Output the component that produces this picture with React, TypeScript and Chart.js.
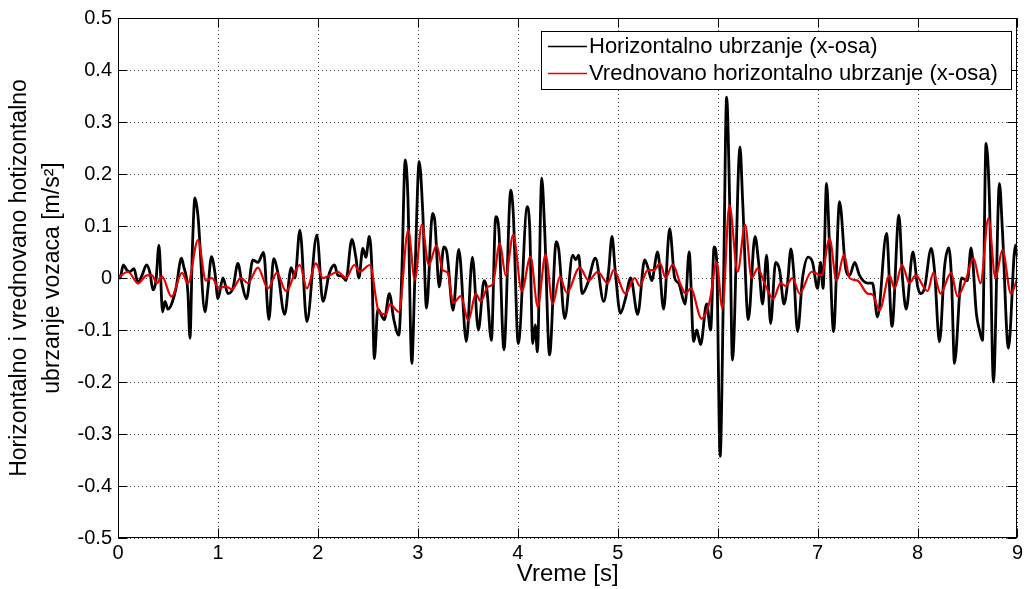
import React, { useEffect, useRef } from 'react';
import { Chart, registerables } from 'chart.js';

Chart.register(...registerables);

const xTickValues = [0, 1, 2, 3, 4, 5, 6, 7, 8, 9];
const yTickValues = [-0.5, -0.4, -0.3, -0.2, -0.1, 0, 0.1, 0.2, 0.3, 0.4, 0.5];

const seriesLabels = ['Horizontalno ubrzanje (x-osa)', 'Vrednovano horizontalno ubrzanje (x-osa)'];
const seriesColors = ['#000000', '#e60000'];

const blackTime = [
  0.0, 0.02, 0.053, 0.09, 0.12, 0.16, 0.2, 0.24, 0.286, 0.32, 0.35, 0.38, 0.41, 0.446, 0.47, 0.5, 0.536, 0.58, 0.635, 0.66,
  0.685, 0.7, 0.72, 0.745, 0.77, 0.8, 0.87, 0.9, 0.935, 0.97, 1.0, 1.05, 1.1, 1.15, 1.2, 1.24, 1.285, 1.35, 1.4, 1.457,
  1.51, 1.557, 1.6, 1.667, 1.733, 1.77, 1.82, 1.89, 1.99, 2.05, 2.116, 2.166, 2.2, 2.25, 2.28, 2.34, 2.38, 2.41, 2.45, 2.48,
  2.515, 2.54, 2.565, 2.6, 2.665, 2.715, 2.76, 2.81, 2.84, 2.874, 2.9, 2.94, 2.97, 3.014, 3.05, 3.087, 3.147, 3.17, 3.214, 3.26,
  3.29, 3.353, 3.41, 3.486, 3.546, 3.606, 3.663, 3.69, 3.736, 3.78, 3.81, 3.862, 3.93, 3.955, 4.005, 4.095, 4.12, 4.15, 4.175, 4.196,
  4.24, 4.27, 4.318, 4.385, 4.41, 4.47, 4.55, 4.58, 4.61, 4.644, 4.7, 4.777, 4.86, 4.91, 4.943, 4.975, 5.027, 5.077, 5.13, 5.2,
  5.27, 5.31, 5.34, 5.4, 5.46, 5.52, 5.57, 5.61, 5.675, 5.715, 5.76, 5.79, 5.83, 5.89, 5.93, 5.965, 5.99, 6.025, 6.06, 6.09,
  6.12, 6.148, 6.224, 6.25, 6.307, 6.374, 6.41, 6.45, 6.49, 6.53, 6.58, 6.62, 6.664, 6.7, 6.733, 6.76, 6.8, 6.85, 6.906, 6.95,
  7.0, 7.03, 7.055, 7.09, 7.12, 7.16, 7.22, 7.28, 7.32, 7.372, 7.42, 7.5, 7.55, 7.6, 7.69, 7.745, 7.814, 7.85, 7.887, 7.954,
  8.0, 8.03, 8.07, 8.137, 8.17, 8.22, 8.27, 8.313, 8.34, 8.37, 8.44, 8.5, 8.536, 8.59, 8.62, 8.65, 8.686, 8.72, 8.76, 8.82,
  8.85, 8.91, 8.98, 9.0,
];
const blackValue = [
  0.005, 0.0, 0.025, 0.015, 0.012, 0.018, -0.01, 0.005, 0.025, 0.01, -0.023, -0.005, 0.063, -0.065, -0.045, -0.06, -0.05, -0.02, 0.038, 0.02,
  0.0, -0.03, -0.116, 0.06, 0.154, 0.12, -0.065, -0.02, 0.041, 0.01, -0.04, 0.0, -0.03, -0.02, 0.028, -0.01, -0.04, 0.035, 0.03, 0.049,
  -0.08, 0.037, 0.01, -0.07, 0.02, 0.0, 0.092, -0.084, 0.083, -0.045, 0.01, 0.025, 0.005, 0.003, -0.005, 0.074, 0.04, 0.0, 0.057, 0.04,
  0.08, 0.02, -0.155, -0.06, -0.08, -0.03, -0.08, -0.11, 0.01, 0.227, 0.16, -0.164, -0.003, 0.224, 0.125, -0.058, 0.124, 0.11, -0.017, 0.06,
  0.05, -0.062, 0.055, -0.122, 0.04, -0.1, -0.005, -0.02, -0.12, 0.118, 0.095, -0.138, 0.169, 0.125, -0.126, 0.137, 0.095, -0.126, -0.09, -0.142,
  0.192, 0.09, -0.148, 0.07, 0.055, -0.078, 0.044, 0.035, 0.044, -0.03, -0.01, 0.038, -0.045, 0.015, 0.08, 0.015, -0.068, -0.04, 0.0, -0.07,
  0.035, 0.015, -0.005, 0.05, -0.06, 0.095, 0.0, -0.01, -0.05, 0.05, -0.122, -0.1, -0.128, -0.05, -0.1, 0.06, 0.035, -0.343, 0.0, 0.348,
  0.15, -0.158, 0.252, 0.15, -0.08, 0.08, 0.03, -0.05, 0.044, -0.088, 0.03, 0.015, -0.05, -0.01, 0.056, 0.015, -0.103, 0.0, 0.04, 0.03,
  -0.02, 0.03, -0.02, 0.182, 0.06, -0.103, 0.147, 0.02, 0.005, 0.03, 0.005, -0.01, -0.01, -0.075, 0.086, -0.093, 0.121, 0.0, -0.06, 0.05,
  -0.015, -0.03, -0.02, 0.057, 0.015, -0.123, 0.02, 0.058, 0.0, -0.164, 0.0, -0.005, 0.058, -0.07, -0.1, -0.12, 0.259, 0.15, -0.2, 0.182,
  0.09, -0.135, 0.063, 0.04,
];

const redTime = [
  0.0, 0.1, 0.2, 0.29, 0.34, 0.39, 0.44, 0.536, 0.64, 0.7, 0.8, 0.88, 0.94, 1.01, 1.08, 1.14, 1.23, 1.3, 1.4, 1.5,
  1.59, 1.68, 1.82, 1.89, 1.98, 2.05, 2.116, 2.2, 2.28, 2.365, 2.42, 2.52, 2.61, 2.68, 2.72, 2.81, 2.904, 2.97, 3.04, 3.11,
  3.187, 3.25, 3.3, 3.353, 3.43, 3.506, 3.58, 3.63, 3.7, 3.75, 3.82, 3.88, 3.955, 4.04, 4.128, 4.2, 4.278, 4.35, 4.42, 4.49,
  4.62, 4.71, 4.8, 4.9, 4.96, 5.077, 5.17, 5.22, 5.3, 5.36, 5.425, 5.48, 5.55, 5.63, 5.68, 5.73, 5.84, 5.92, 5.99, 6.048,
  6.118, 6.2, 6.275, 6.34, 6.4, 6.48, 6.557, 6.63, 6.68, 6.75, 6.82, 6.94, 7.04, 7.12, 7.19, 7.265, 7.32, 7.4, 7.5, 7.55,
  7.62, 7.72, 7.77, 7.845, 7.92, 7.98, 8.1, 8.16, 8.23, 8.336, 8.4, 8.48, 8.56, 8.63, 8.71, 8.78, 8.85, 8.935, 9.0,
];
const redValue = [
  0.0, 0.012, -0.01, 0.005, 0.005, -0.01, 0.003, -0.036, 0.01, -0.01, 0.073, -0.005, 0.0, -0.02, -0.016, -0.022, 0.0, -0.01, 0.02, -0.02,
  0.01, -0.025, 0.025, -0.02, 0.028, 0.0, 0.005, 0.012, 0.0, 0.025, 0.012, 0.025, -0.065, -0.07, -0.05, -0.065, 0.092, -0.003, 0.102, 0.025,
  0.063, 0.015, 0.01, -0.048, -0.035, -0.082, -0.03, -0.045, -0.017, -0.012, 0.067, 0.005, 0.083, -0.025, 0.041, -0.055, 0.045, -0.05, 0.002, -0.028,
  0.02, -0.005, 0.012, -0.01, 0.015, -0.03, 0.0, -0.015, 0.015, 0.015, 0.028, 0.0, 0.026, -0.013, -0.03, -0.02, -0.078, -0.045, 0.03, -0.058,
  0.14, 0.012, 0.102, 0.0, 0.018, -0.015, -0.04, -0.01, -0.015, 0.0, -0.03, 0.012, 0.005, 0.076, -0.005, 0.045, 0.0, -0.005, -0.03, -0.032,
  -0.062, 0.005, -0.02, 0.025, -0.01, 0.005, -0.025, 0.01, -0.03, 0.01, -0.035, -0.005, 0.038, -0.01, 0.115, 0.0, 0.054, -0.03, 0.0,
];

const FONT = "'Liberation Sans', Arial, Helvetica, sans-serif";

function fmt(v: number): string {
  const r = Math.round(v * 10) / 10;
  if (r === 0) return '0';
  return String(r);
}

const matlabPlugin = {
  id: 'matlabFrame',
  beforeDatasetsDraw(chart: any) {
    const { ctx, chartArea } = chart;
    const xs = chart.scales.x;
    const ys = chart.scales.y;
    ctx.save();
    ctx.strokeStyle = 'rgba(0,0,0,0.7)';
    ctx.lineWidth = 1;
    ctx.setLineDash([1, 3]);
    xTickValues.forEach((v) => {
      const px = Math.round(xs.getPixelForValue(v)) + 0.5;
      ctx.beginPath();
      ctx.moveTo(px, chartArea.top);
      ctx.lineTo(px, chartArea.bottom);
      ctx.stroke();
    });
    yTickValues.forEach((v) => {
      const py = Math.round(ys.getPixelForValue(v)) + 0.5;
      ctx.beginPath();
      ctx.moveTo(chartArea.left, py);
      ctx.lineTo(chartArea.right, py);
      ctx.stroke();
    });
    ctx.restore();
  },
  afterDatasetsDraw(chart: any) {
    const { ctx, chartArea } = chart;
    const xs = chart.scales.x;
    const ys = chart.scales.y;
    const L = Math.round(chartArea.left) + 0.5;
    const R = Math.round(chartArea.right) - 0.5;
    const T = Math.round(chartArea.top) + 0.5;
    const B = Math.round(chartArea.bottom) - 0.5;
    const tl = 9;
    ctx.save();
    ctx.setLineDash([]);
    ctx.strokeStyle = '#000';
    ctx.lineWidth = 1;
    ctx.strokeRect(L, T, R - L, B - T);
    ctx.beginPath();
    xTickValues.forEach((v) => {
      const px = Math.round(xs.getPixelForValue(v)) + 0.5;
      ctx.moveTo(px, B);
      ctx.lineTo(px, B - tl);
      ctx.moveTo(px, T);
      ctx.lineTo(px, T + tl);
    });
    yTickValues.forEach((v) => {
      const py = Math.round(ys.getPixelForValue(v)) + 0.5;
      ctx.moveTo(L, py);
      ctx.lineTo(L + tl, py);
      ctx.moveTo(R, py);
      ctx.lineTo(R - tl, py);
    });
    ctx.stroke();
    ctx.restore();
  },
  afterDraw(chart: any) {
    const { ctx } = chart;
    const bx = 541.5;
    const by = 31.5;
    const bw = 470;
    const bh = 58;
    ctx.save();
    ctx.setLineDash([]);
    ctx.fillStyle = '#fff';
    ctx.fillRect(bx, by, bw, bh);
    ctx.strokeStyle = '#000';
    ctx.lineWidth = 1;
    ctx.strokeRect(bx, by, bw, bh);
    ctx.font = `22px ${FONT}`;
    ctx.textBaseline = 'middle';
    ctx.textAlign = 'left';
    const rows = [46, 73];
    chart.data.datasets.forEach((ds: any, i: number) => {
      ctx.strokeStyle = ds.borderColor;
      ctx.lineWidth = 1.5;
      ctx.beginPath();
      ctx.moveTo(548, rows[i] + 0.5);
      ctx.lineTo(587, rows[i] + 0.5);
      ctx.stroke();
      ctx.fillStyle = '#000';
      ctx.fillText(ds.label, 589, rows[i] + 1);
    });
    ctx.restore();
  },
};

export default function App() {
  const ref = useRef<HTMLCanvasElement | null>(null);
  useEffect(() => {
    if (!ref.current) return;
    const chart = new Chart(ref.current, {
      type: 'line',
      data: {
        datasets: [
          {
            label: seriesLabels[0],
            data: blackTime.map((t, i) => ({ x: t, y: blackValue[i] })),
            borderColor: seriesColors[0],
            borderWidth: 2.8,
            pointRadius: 0,
            cubicInterpolationMode: 'monotone',
            order: 1,
          },
          {
            label: seriesLabels[1],
            data: redTime.map((t, i) => ({ x: t, y: redValue[i] })),
            borderColor: seriesColors[1],
            borderWidth: 2.2,
            pointRadius: 0,
            cubicInterpolationMode: 'monotone',
            order: 0,
          },
        ],
      },
      options: {
        responsive: false,
        animation: false,
        devicePixelRatio: 1,
        layout: { padding: { left: 0, top: 18, right: 6, bottom: 0 } },
        plugins: { legend: { display: false }, tooltip: { enabled: false } },
        scales: {
          x: {
            type: 'linear',
            min: 0,
            max: 9,
            afterBuildTicks: (s: any) => {
              s.ticks = xTickValues.map((v) => ({ value: v }));
            },
            afterFit: (s: any) => {
              s.height = 51;
            },
            grid: { display: false, drawTicks: false },
            border: { display: false },
            ticks: {
              padding: 3,
              color: '#000',
              font: { family: FONT, size: 20 },
              maxRotation: 0,
              callback: (v: any) => fmt(Number(v)),
            },
            title: {
              display: true,
              text: 'Vreme [s]',
              color: '#000',
              font: { family: FONT, size: 24 },
              padding: { top: 0, bottom: 0 },
            },
          },
          y: {
            type: 'linear',
            min: -0.5,
            max: 0.5,
            afterBuildTicks: (s: any) => {
              s.ticks = yTickValues.map((v) => ({ value: v }));
            },
            afterFit: (s: any) => {
              s.width = 118;
            },
            grid: { display: false, drawTicks: false },
            border: { display: false },
            ticks: {
              padding: 6,
              color: '#000',
              font: { family: FONT, size: 20 },
              callback: (v: any) => fmt(Number(v)),
            },
            title: {
              display: true,
              text: ['Horizontalno i vrednovano hotizontalno', 'ubrzanje vozaca [m/s²]'],
              color: '#000',
              font: { family: FONT, size: 23, lineHeight: 1.4 },
              padding: { top: 4, bottom: 0 },
            },
          },
        },
      },
      plugins: [matlabPlugin],
    } as any);
    return () => chart.destroy();
  }, []);
  return (
    <div style={{ position: 'fixed', left: 0, top: 0, width: 1026, height: 589, background: '#fff' }}>
      <canvas ref={ref} width={1026} height={589} style={{ display: 'block', width: 1026, height: 589 }} />
    </div>
  );
}
